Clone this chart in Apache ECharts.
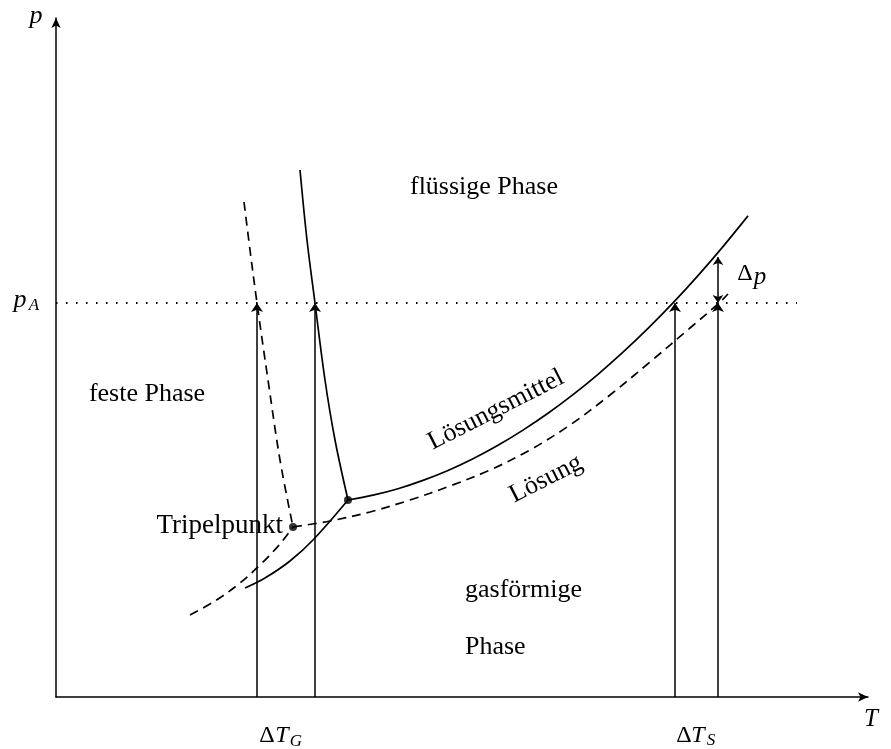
<!DOCTYPE html>
<html>
<head>
<meta charset="utf-8">
<script src="https://cdn.jsdelivr.net/npm/echarts@6/dist/echarts.min.js"></script>
<style>
  html, body { margin: 0; padding: 0; background: #fff; }
  #chart { width: 891px; height: 749px; }
</style>
</head>
<body>
<div id="chart"></div>
<script>
// phase diagram, schematic units (T to the right, p upwards)
var pA = 394;

// pure solvent (solid lines)
var meltSolvent = [[244, 527], [251, 457], [259, 394], [269, 317], [279, 257], [292, 197]];
var vaporSolvent = [[292, 197], [317, 201.8], [342, 208.3], [367, 216.6], [392, 226.5], [417, 238.2], [442, 251.7], [467, 266.9], [492, 283.7], [517, 302.3], [542, 322.7], [567, 344.8], [592, 368.6], [617, 394.1], [642, 421.4], [667, 450.4], [692, 481.1]];
var sublSolvent = [[189, 109], [209, 119], [234, 136], [257, 157], [292, 197]];

// solution (dashed lines)
var meltSolution = [[188, 495], [194, 447], [201, 394], [212, 317], [224, 237], [237, 170]];
var vaporSolution = [[237, 170], [274, 176], [314, 185], [354, 197], [394, 211], [434, 227], [474, 247], [514, 272], [554, 302], [594, 335], [634, 369], [663, 394], [672, 403]];
var sublSolution = [[134, 82], [159, 96], [184, 114], [206, 134], [224, 153], [237, 170]];

var triplePoints = [[292, 197], [237, 170]];
var arrowX = [201, 259, 619, 662];
var pALine = [[0, pA], [741, pA]];
var deltaP = [[662, pA], [662, 440]];

var font = '"Liberation Serif", "DejaVu Serif", serif';

var chart = echarts.init(document.getElementById('chart'));

function curve(data, dashed) {
    return {
        type: 'line',
        data: data,
        smooth: 0.35,
        showSymbol: false,
        silent: true,
        lineStyle: { color: '#000', width: 1.7, type: dashed ? [9, 6] : 'solid' }
    };
}

function txt(s, x, y, opt) {
    opt = opt || {};
    return {
        type: 'text',
        x: x, y: y,
        rotation: opt.rot || 0,
        style: {
            text: s,
            fill: '#000',
            font: (opt.italic ? 'italic ' : '') + (opt.size || 25) + 'px ' + font,
            textAlign: opt.align || 'center',
            textVerticalAlign: 'middle'
        }
    };
}

var arrows = arrowX.map(function (x) {
    return { coords: [[x, 0], [x, pA]] };
});

chart.setOption({
    animation: false,
    grid: { left: 56, right: 23, top: 18, bottom: 52 },
    xAxis: {
        type: 'value', min: 0, max: 812,
        axisLine: { lineStyle: { color: '#000', width: 1.5 }, symbol: ['none', 'arrow'], symbolSize: [7, 10] },
        axisTick: { show: false }, axisLabel: { show: false }, splitLine: { show: false }
    },
    yAxis: {
        type: 'value', min: 0, max: 679,
        axisLine: { lineStyle: { color: '#000', width: 1.5 }, symbol: ['none', 'arrow'], symbolSize: [7, 10] },
        axisTick: { show: false }, axisLabel: { show: false }, splitLine: { show: false }
    },
    series: [
        curve(meltSolvent, false),
        curve(vaporSolvent, false),
        curve(sublSolvent, false),
        curve(meltSolution, true),
        curve(vaporSolution, true),
        curve(sublSolution, true),
        {
            type: 'line', data: pALine, showSymbol: false, silent: true,
            lineStyle: { color: '#000', width: 1.8, type: [1.5, 8.5] }
        },
        {
            type: 'lines', coordinateSystem: 'cartesian2d', silent: true,
            symbol: ['none', 'arrow'], symbolSize: 9,
            lineStyle: { color: '#000', width: 1.5, opacity: 1 },
            data: arrows
        },
        {
            type: 'lines', coordinateSystem: 'cartesian2d', silent: true,
            symbol: ['arrow', 'arrow'], symbolSize: 8,
            lineStyle: { color: '#000', width: 1.5, opacity: 1 },
            data: [{ coords: deltaP }]
        },
        {
            type: 'scatter', data: triplePoints, symbolSize: 8, silent: true,
            itemStyle: { color: '#000' }
        }
    ],
    graphic: [
        txt('p', 36, 16, { italic: true, size: 26 }),
        txt('p', 20, 300, { italic: true, size: 26 }),
        txt('A', 34, 306, { italic: true, size: 17 }),
        txt('T', 871, 719, { italic: true, size: 25 }),
        txt('Δ', 267, 736, { size: 24 }),
        txt('T', 282, 736, { italic: true, size: 24 }),
        txt('G', 296, 742, { italic: true, size: 17 }),
        txt('Δ', 684, 736, { size: 24 }),
        txt('T', 698, 736, { italic: true, size: 24 }),
        txt('S', 711, 741, { italic: true, size: 17 }),
        txt('Δ', 745, 274, { size: 24 }),
        txt('p', 760, 277, { italic: true, size: 25 }),
        txt('flüssige Phase', 484, 187, { size: 26 }),
        txt('feste Phase', 147, 394, { size: 26 }),
        txt('Tripelpunkt', 283, 526, { align: 'right', size: 27 }),
        txt('gasförmige', 465, 590, { align: 'left', size: 26 }),
        txt('Phase', 465, 647, { align: 'left', size: 26 }),
        txt('Lösungsmittel', 496, 410, { rot: 27 * Math.PI / 180, size: 26 }),
        txt('Lösung', 546, 479, { rot: 27 * Math.PI / 180, size: 26 })
    ]
});
</script>
</body>
</html>
